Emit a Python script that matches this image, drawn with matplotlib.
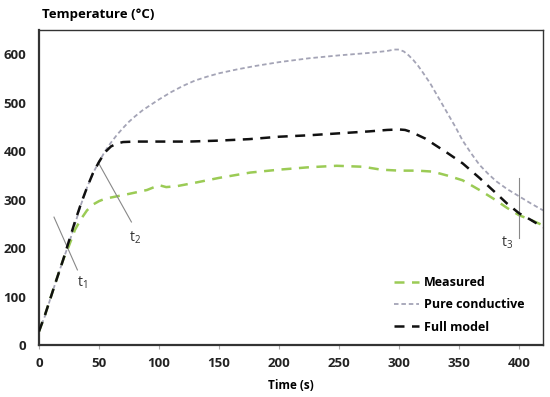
import numpy as np
import matplotlib.pyplot as plt

# values
t_pure = [0, 5, 10, 15, 20, 25, 30, 35, 40, 45, 50, 55, 60, 65, 70, 75, 80, 86, 92, 100,
          110, 120, 130, 140, 150, 165, 180, 200, 225, 250, 275, 290, 296, 300, 304, 308,
          312, 316, 320, 326, 333, 340, 347, 353, 360, 367, 374, 381, 390, 400, 410, 420]
T_pure = [28, 60, 100, 138, 175, 210, 250, 290, 325, 355, 378, 400, 418, 434, 448, 461, 472, 484, 494, 507,
          522, 535, 546, 554, 561, 569, 576, 584, 592, 598, 603, 607, 610, 610, 606, 598,
          588, 576, 562, 540, 510, 480, 450, 422, 396, 372, 354, 338, 322, 307, 292, 278]

t_full = [0, 5, 10, 15, 20, 25, 30, 35, 40, 45, 50, 55, 60, 65, 70, 80, 100, 125, 150, 175,
          200, 225, 250, 275, 290, 300, 305, 310, 316, 322, 330, 340, 353, 367, 381, 390,
          400, 410, 420]
T_full = [28, 62, 100, 138, 175, 215, 255, 292, 325, 355, 378, 398, 410, 416, 419, 420, 420, 420, 422, 425,
          430, 433, 437, 441, 444, 445, 444, 440, 433, 426, 413, 397, 375, 345, 313, 292,
          272, 258, 243]

t_meas = [0, 5, 10, 15, 20, 25, 30, 35, 40, 45, 50, 55, 63, 75, 90, 100, 106, 115, 130, 150,
          176, 200, 225, 248, 270, 285, 300, 315, 328, 340, 353, 367, 380, 390, 400, 410, 420]
T_meas = [28, 62, 100, 138, 175, 205, 238, 260, 278, 290, 297, 302, 306, 312, 320, 330, 326, 328, 335, 345,
          356, 362, 367, 370, 368, 362, 360, 360, 358, 350, 340, 320, 300, 283, 268, 258, 247]

plt.rcParams['font.family'] = ['Open Sans', 'DejaVu Sans']

fig = plt.figure(figsize=(5.5, 3.97), dpi=100)
ax = fig.add_axes([0.0709, 0.131, 0.9165, 0.793])

ax.plot(t_meas, T_meas, color='#9BCB55', lw=1.8, dashes=(4, 3), label='Measured', zorder=2)
ax.plot(t_pure, T_pure, color='#A4A4B6', lw=1.3, dashes=(2.5, 1.6), label='Pure conductive', zorder=1)
ax.plot(t_full, T_full, color='#111111', lw=1.8, dashes=(4, 3), label='Full model', zorder=3)

# time markers
ax.plot([12.5, 32], [264, 155], color='#888888', lw=0.8)
ax.plot([50, 77], [374, 254], color='#888888', lw=0.8)
ax.plot([400, 400], [344, 220], color='#888888', lw=0.8)
ax.text(36, 128, '$\\mathregular{t_1}$', fontsize=10, color='#333333', ha='center', va='center')
ax.text(80, 222, '$\\mathregular{t_2}$', fontsize=10, color='#333333', ha='center', va='center')
ax.text(390, 212, '$\\mathregular{t_3}$', fontsize=10, color='#333333', ha='center', va='center')

ax.set_xlim(0, 420)
ax.set_ylim(0, 650)
ax.set_xticks(np.arange(0, 401, 50))
ax.set_yticks(np.arange(0, 601, 100))
ax.tick_params(axis='y', length=0, pad=9, labelsize=9.5, labelcolor='#222222')
ax.tick_params(axis='x', length=3, color='#aaaaaa', pad=6, labelsize=9.5, labelcolor='#222222')
for lab in ax.get_xticklabels() + ax.get_yticklabels():
    lab.set_fontweight('bold')

for side in ['left', 'bottom']:
    ax.spines[side].set_linewidth(1.6)
    ax.spines[side].set_color('#333333')
for side in ['top', 'right']:
    ax.spines[side].set_linewidth(1.0)
    ax.spines[side].set_color('#333333')

ax.set_xlabel('Time (s)', fontsize=8.5, fontweight='bold', labelpad=6)
fig.text(0.076, 0.963, 'Temperature (°C)', fontsize=9.5, fontweight='bold', ha='left', va='center')

leg = ax.legend(loc='lower right', bbox_to_anchor=(0.985, 0.0), frameon=False,
                handlelength=2.0, handletextpad=0.4, labelspacing=0.75,
                prop={'weight': 'bold', 'size': 9})

fig.savefig('out.png', dpi=100)
